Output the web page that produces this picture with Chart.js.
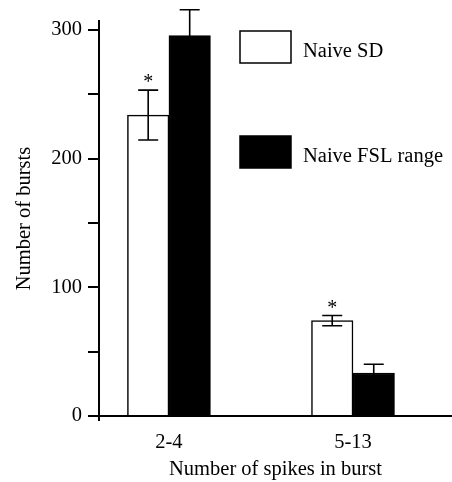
<!DOCTYPE html>
<html>
<head>
<meta charset="utf-8">
<script src="https://cdn.jsdelivr.net/npm/chart.js@4.4.0/dist/chart.umd.min.js"></script>
<style>
  html, body { margin: 0; padding: 0; background: #ffffff; }
  #wrap { width: 452px; height: 482px; }
</style>
</head>
<body>
<div id="wrap"><canvas id="c" width="452" height="482"></canvas></div>
<script>
// ---- data ----
const categories = ['2-4', '5-13'];
const seriesNames = ['Naive SD', 'Naive FSL range'];
const naiveSD = [233.9, 74.1];
const naiveSDErr = [19.4, 4.0];
const naiveFSL = [295.6, 33.4];
const naiveFSLErr = [20.2, 6.8];
const sdMarks = ['*', '*'];
const yTickValues = [0, 100, 200, 300];

const FONT = 'Liberation Serif, "Times New Roman", serif';
const FS = 20.5;

const toPoints = (vals) => categories.map((c, i) => ({ x: i + 1, y: vals[i] }));

const errorBars = {
  id: 'errorBars',
  afterDatasetsDraw(chart) {
    const ctx = chart.ctx;
    const y = chart.scales.y;
    const errs = [naiveSDErr, naiveFSLErr];
    const vals = [naiveSD, naiveFSL];
    ctx.save();
    ctx.strokeStyle = '#000';
    ctx.lineWidth = 1.6;
    chart.data.datasets.forEach((ds, d) => {
      const meta = chart.getDatasetMeta(d);
      meta.data.forEach((bar, i) => {
        const x = bar.x;
        const top = y.getPixelForValue(vals[d][i] + errs[d][i]);
        const bot = y.getPixelForValue(vals[d][i] - errs[d][i]);
        const half = 10;
        ctx.beginPath();
        ctx.moveTo(x, top); ctx.lineTo(x, bot);
        ctx.moveTo(x - half, top); ctx.lineTo(x + half, top);
        ctx.moveTo(x - half, bot); ctx.lineTo(x + half, bot);
        ctx.stroke();
        if (d === 0 && sdMarks[i]) {
          ctx.fillStyle = '#000';
          ctx.font = '20px ' + FONT;
          ctx.textAlign = 'center';
          ctx.textBaseline = 'alphabetic';
          ctx.fillText(sdMarks[i], x, top - 2);
        }
      });
    });
    // small stub of the y axis below the x axis
    const a = chart.chartArea;
    ctx.lineWidth = 2;
    ctx.beginPath();
    ctx.moveTo(a.left, a.bottom);
    ctx.lineTo(a.left, a.bottom + 5);
    ctx.stroke();
    ctx.restore();
  }
};

const boxLegend = {
  id: 'boxLegend',
  afterDraw(chart) {
    const ctx = chart.ctx;
    const rows = [{ y: 31 }, { y: 136 }];
    ctx.save();
    ctx.font = FS + 'px ' + FONT;
    ctx.textAlign = 'left';
    ctx.textBaseline = 'alphabetic';
    chart.data.datasets.forEach((ds, d) => {
      const r = rows[d];
      ctx.fillStyle = ds.backgroundColor;
      ctx.fillRect(240, r.y, 51, 32);
      ctx.strokeStyle = '#000';
      ctx.lineWidth = 1.5;
      ctx.strokeRect(240, r.y, 51, 32);
      ctx.fillStyle = '#000';
      ctx.fillText(ds.label, 303, r.y + 26);
    });
    ctx.restore();
  }
};

new Chart(document.getElementById('c'), {
  type: 'bar',
  data: {
    datasets: [
      { label: seriesNames[0], data: toPoints(naiveSD), backgroundColor: '#ffffff', borderColor: '#000000', borderWidth: 1.5 },
      { label: seriesNames[1], data: toPoints(naiveFSL), backgroundColor: '#000000', borderColor: '#000000', borderWidth: 1.5 }
    ]
  },
  options: {
    responsive: false,
    animation: false,
    events: [],
    barThickness: 41.5,
    layout: { padding: { top: 21, right: 0, bottom: 0, left: 0 } },
    plugins: { legend: { display: false }, tooltip: { enabled: false } },
    scales: {
      x: {
        type: 'linear',
        offset: false,
        min: 0.62,
        max: 2.538,
        afterBuildTicks: (s) => { s.ticks = categories.map((c, i) => ({ value: i + 1 })); },
        afterFit: (s) => { s.height = 66; },
        grid: { display: true, offset: false, drawOnChartArea: false, drawTicks: false },
        border: { display: true, color: '#000', width: 2 },
        ticks: {
          color: '#000',
          font: { family: FONT, size: FS },
          padding: 14,
          maxRotation: 0,
          autoSkip: false,
          callback: (v) => categories[Math.round(v) - 1] ?? ''
        },
        title: {
          display: true,
          text: 'Number of spikes in burst',
          color: '#000',
          font: { family: FONT, size: FS },
          padding: { top: 0, bottom: 0 }
        }
      },
      y: {
        min: 0,
        max: 307,
        afterFit: (s) => { s.width = 99; },
        grid: { display: true, drawOnChartArea: false, drawTicks: true, tickLength: 11, color: '#000', lineWidth: 2 },
        border: { display: true, color: '#000', width: 2 },
        ticks: {
          stepSize: 50,
          includeBounds: false,
          color: '#000',
          font: { family: FONT, size: FS },
          padding: 6,
          callback: (v) => yTickValues.includes(v) ? String(v) : ''
        },
        title: {
          display: true,
          text: 'Number of bursts',
          color: '#000',
          font: { family: FONT, size: FS },
          padding: { top: 12, bottom: 0 }
        }
      }
    }
  },
  plugins: [errorBars, boxLegend]
});
</script>
</body>
</html>
